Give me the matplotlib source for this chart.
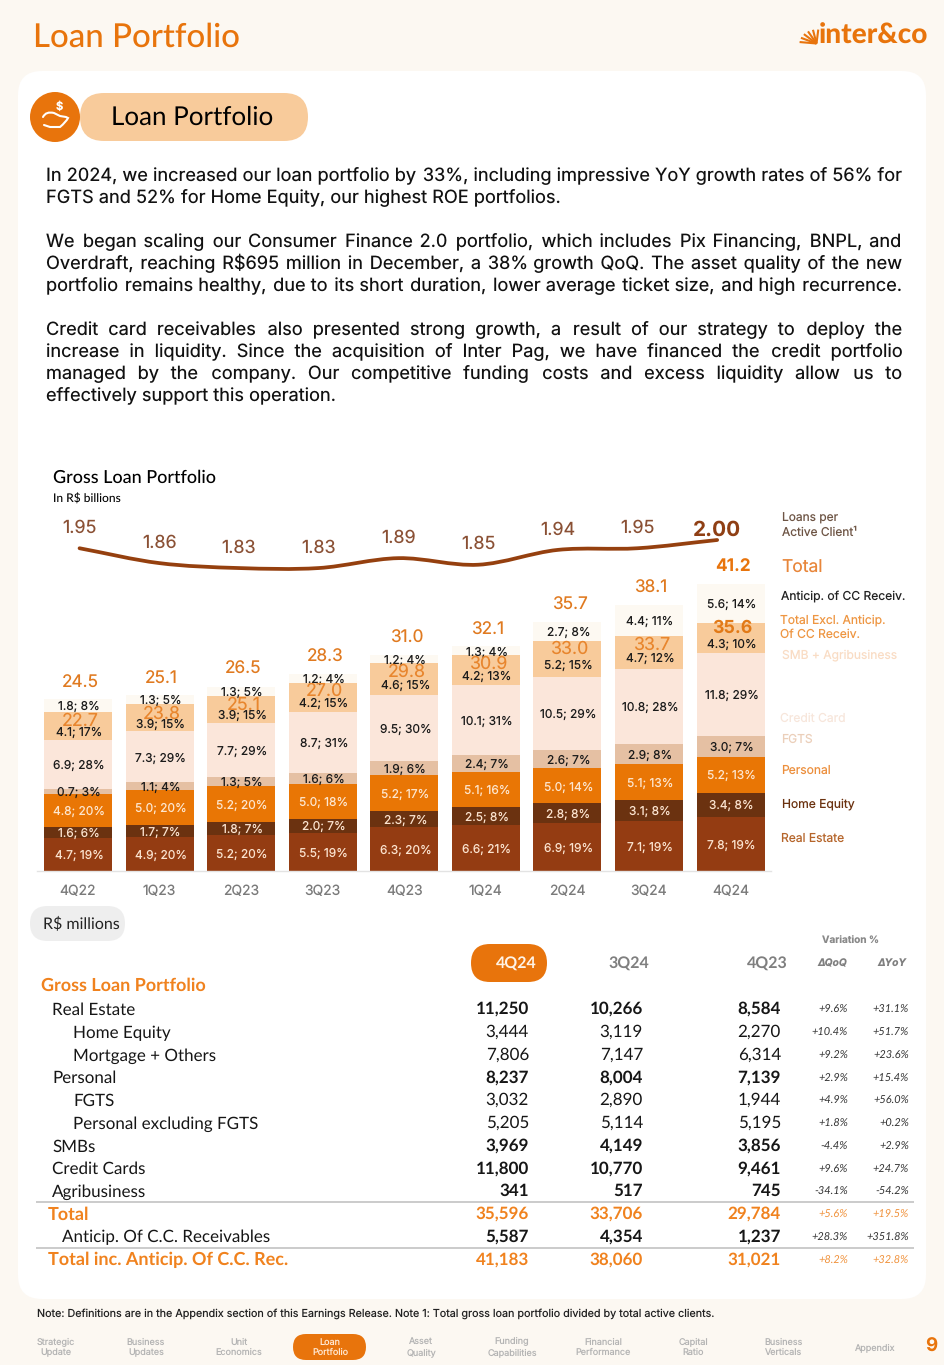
import matplotlib
matplotlib.use("Agg")
import matplotlib.pyplot as plt
import numpy as np
from matplotlib import font_manager as fm
from matplotlib.ft2font import FT2Font
from matplotlib.patches import FancyBboxPatch, Circle, PathPatch
from matplotlib.path import Path

plt.rcParams["text.hinting"] = "no_hinting"
plt.rcParams["text.hinting_factor"] = 1

# ---------- data ----------
quarters = ["4Q22", "1Q23", "2Q23", "3Q23", "4Q23", "1Q24", "2Q24", "3Q24", "4Q24"]
real_estate = [4.7, 4.9, 5.2, 5.5, 6.3, 6.6, 6.9, 7.1, 7.8]
home_equity = [1.6, 1.7, 1.8, 2.0, 2.3, 2.5, 2.8, 3.1, 3.4]
personal = [4.8, 5.0, 5.2, 5.0, 5.2, 5.1, 5.0, 5.1, 5.2]
fgts = [0.7, 1.1, 1.3, 1.6, 1.9, 2.4, 2.6, 2.9, 3.0]
credit_card = [6.9, 7.3, 7.7, 8.7, 9.5, 10.1, 10.5, 10.8, 11.8]
smb_agri = [4.1, 3.9, 3.9, 4.2, 4.6, 4.2, 5.2, 4.7, 4.3]
anticip = [1.8, 1.3, 1.3, 1.2, 1.2, 1.3, 2.7, 4.4, 5.6]
pct_real_estate = [19, 20, 20, 19, 20, 21, 19, 19, 19]
pct_home_equity = [6, 7, 7, 7, 7, 8, 8, 8, 8]
pct_personal = [20, 20, 20, 18, 17, 16, 14, 13, 13]
pct_fgts = [3, 4, 5, 6, 6, 7, 7, 8, 7]
pct_credit_card = [28, 29, 29, 31, 30, 31, 29, 28, 29]
pct_smb_agri = [17, 15, 15, 15, 15, 13, 15, 12, 10]
pct_anticip = [8, 5, 5, 4, 4, 4, 8, 11, 14]
total = [24.5, 25.1, 26.5, 28.3, 31.0, 32.1, 35.7, 38.1, 41.2]
total_excl = [22.7, 23.8, 25.1, 27.0, 29.8, 30.9, 33.0, 33.7, 35.6]
loans_per_client = [1.95, 1.86, 1.83, 1.83, 1.89, 1.85, 1.94, 1.95, 2.00]

table_labels = ["Real Estate", "Home Equity", "Mortgage + Others", "Personal", "FGTS",
                "Personal excluding FGTS", "SMBs", "Credit Cards", "Agribusiness", "Total",
                "Anticip. Of C.C. Receivables", "Total inc. Anticip. Of C.C. Rec."]
col_4q24 = [11250, 3444, 7806, 8237, 3032, 5205, 3969, 11800, 341, 35596, 5587, 41183]
col_3q24 = [10266, 3119, 7147, 8004, 2890, 5114, 4149, 10770, 517, 33706, 4354, 38060]
col_4q23 = [8584, 2270, 6314, 7139, 1944, 5195, 3856, 9461, 745, 29784, 1237, 31021]
var_qoq = [9.6, 10.4, 9.2, 2.9, 4.9, 1.8, -4.4, 9.6, -34.1, 5.6, 28.3, 8.2]
var_yoy = [31.1, 51.7, 23.6, 15.4, 56.0, 0.2, 2.9, 24.7, -54.2, 19.5, 351.8, 32.8]

para_lines = [
    ("In 2024, we increased our loan portfolio by 33%, including impressive YoY growth rates of 56% for", True),
    ("FGTS and 52% for Home Equity, our highest ROE portfolios.", False),
    ("We began scaling our Consumer Finance 2.0 portfolio, which includes Pix Financing, BNPL, and", True),
    ("Overdraft, reaching R$695 million in December, a 38% growth QoQ. The asset quality of the new", True),
    ("portfolio remains healthy, due to its short duration, lower average ticket size, and high recurrence.", True),
    ("Credit card receivables also presented strong growth, a result of our strategy to deploy the", True),
    ("increase in liquidity. Since the acquisition of Inter Pag, we have financed the credit portfolio", True),
    ("managed by the company. Our competitive funding costs and excess liquidity allow us to", True),
    ("effectively support this operation.", False),
]
nav_items = ["Strategic\nUpdate", "Business\nUpdates", "Unit\nEconomics", "Loan\nPortfolio", "Asset\nQuality",
             "Funding\nCapabilities", "Financial\nPerformance", "Capital\nRatio", "Business\nVerticals", "Appendix"]

# ---------- style ----------
W, H = 945, 1365
ORANGE = "#E8740C"
PAGE = "#FCF8F2"
BODY = "Inter"
HEAD = "Lato"
C_RE, C_HE, C_PE, C_FG, C_CC, C_SM, C_AN = "#943C12", "#6B3210", "#E97605", "#E5C0A3", "#FBE6DA", "#F8CB9B", "#FDF9F2"

fig = plt.figure(figsize=(W / 100, H / 100), dpi=100, facecolor=PAGE)
page = fig.add_axes([0, 0, 1, 1], zorder=0)
page.set_xlim(0, W)
page.set_ylim(H, 0)
page.axis("off")


def T(x, y, s, size=9, color="black", ha="left", va="center", family=BODY, weight="normal", **kw):
    return page.text(x, y + 1.2, s, fontsize=size, color=color, ha=ha, va=va, family=family, weight=weight, **kw)


def pill(x0, y0, x1, y1, color, r=None, z=1):
    r = (y1 - y0) / 2 if r is None else r
    page.add_patch(FancyBboxPatch((x0 + r, y0 + r), x1 - x0 - 2 * r, y1 - y0 - 2 * r,
                                  boxstyle=f"round,pad={r},rounding_size={r}", fc=color, ec="none", zorder=z))


# header
T(33, 36, "Loan Portfolio", size=23.7, color=ORANGE, family=HEAD, weight="medium")
T(928, 34, "inter&co", size=20.5, color=ORANGE, ha="right", family=HEAD, weight="black")
for a in np.deg2rad([6, 24, 42, 60, 78, 96]):
    page.plot([816.5, 816.5 - 17 * np.cos(a)], [43.5, 43.5 - 14 * np.sin(a)], color=ORANGE, lw=1.5, solid_capstyle="butt")

# panel
pill(18, 71, 926, 1299, "white", r=24)

# section badge
page.add_patch(Circle((55, 117), 25, fc=ORANGE, ec="none", zorder=2))
pill(80, 93, 308, 141, C_SM)
T(192, 116, "Loan Portfolio", size=18.8, ha="center", family=HEAD, zorder=3)
T(59, 106, "$", size=8, color="white", ha="center", weight="bold", zorder=3)
hand = Path([(43, 117), (46, 111), (54, 113), (60, 116), (66, 117), (68, 118), (66, 122), (60, 127), (50, 127), (44, 125)],
            [Path.MOVETO, Path.CURVE3, Path.CURVE3, Path.LINETO, Path.LINETO, Path.LINETO, Path.CURVE3, Path.CURVE3,
             Path.LINETO, Path.LINETO])
page.add_patch(PathPatch(hand, fc="none", ec="white", lw=1.5, zorder=3, capstyle="round"))

# paragraph: one text per line, justified by padding the word gaps with the narrowest space the font has
para_base = [180, 202, 246, 268, 290, 334, 356, 378, 400]
PARA_SIZE = 13.08
renderer = fig.canvas.get_renderer()
L, R = 46, 902
body_font = FT2Font(fm.findfont(BODY))
pads = [c for c in "\u200a\u2009\u2006\u2005" if body_font.get_char_index(ord(c))]


def line_width(s):
    t = page.text(0, 0, s, fontsize=PARA_SIZE, family=BODY)
    w = t.get_window_extent(renderer).width
    t.remove()
    return w


pad = pads[0] if pads else " "
pad_w = line_width("a" + pad + "a") - line_width("aa")
for (line, justify), y in zip(para_lines, para_base):
    if justify:
        words = line.split(" ")
        gaps = len(words) - 1
        need = (R - L - line_width(line)) / pad_w
        out, done = words[0], 0
        for k, w in enumerate(words[1:], start=1):
            n = int(round(need * k / gaps)) - done
            done += n
            out += " " + pad * max(n, 0) + w
        line = out
    T(L, y, line, size=PARA_SIZE, color="#111111", va="baseline")

# chart titles
T(53, 477, "Gross Loan Portfolio", size=13, family=HEAD, weight="medium")
T(53, 498, "In R$ billions", size=8.8, family=HEAD, weight="medium")

# ---------- bars ----------
BASE, PX_PER_UNIT = 871, 6.98
ax_top = 575
ax = fig.add_axes([37.2 / W, 1 - BASE / H, (771.3 - 37.2) / W, (BASE - ax_top) / H], zorder=2)
ax.patch.set_alpha(0)
ax.set_xlim(-0.5, 8.5)
ax.set_ylim(0, (BASE - ax_top) / PX_PER_UNIT)
for s in ["top", "left", "right"]:
    ax.spines[s].set_visible(False)
ax.spines["bottom"].set_color("#E3E3E3")
ax.spines["bottom"].set_linewidth(1)
ax.set_yticks([])
ax.set_xticks(range(len(quarters)), quarters)
ax.tick_params(axis="x", length=0, pad=10, labelsize=10, labelcolor="#7A7A7A")
for t in ax.get_xticklabels():
    t.set_family(BODY)

stack = [
    (real_estate, pct_real_estate, C_RE, "#FBE3CF", -1.0),
    (home_equity, pct_home_equity, C_HE, "#FBE3CF", -1.0),
    (personal, pct_personal, C_PE, "#FDE6CF", -1.0),
    (fgts, pct_fgts, C_FG, "#1A1A1A", -1.0),
    (credit_card, pct_credit_card, C_CC, "#1A1A1A", -1.0),
    (smb_agri, pct_smb_agri, C_SM, "#1A1A1A", -4.6),
    (anticip, pct_anticip, C_AN, "#1A1A1A", -1.0),
]
x = np.arange(len(quarters))
bottom = np.zeros(len(quarters))
for vals, pcts, color, tc, dy in stack:
    vals = np.array(vals)
    ax.bar(x, vals, 0.834, bottom=bottom, color=color, linewidth=0, zorder=2)
    for i in range(len(x)):
        ax.annotate(f"{vals[i]:.1f}; {pcts[i]}%", (x[i], bottom[i] + vals[i] / 2), xytext=(0.8, dy),
                    textcoords="offset points", ha="center", va="center", fontsize=8.6, color=tc, family=BODY, zorder=5)
    bottom = bottom + vals

for i in range(len(x)):
    last = i == len(x) - 1
    ax.annotate(f"{total[i]:.1f}", (x[i], total[i]), xytext=(1.6, 12), textcoords="offset points", ha="center",
                va="center", fontsize=12.4, color="#E07A20" if not last else ORANGE, family=BODY,
                weight="bold" if last else "normal", zorder=6, annotation_clip=False)
    ax.annotate(f"{total_excl[i]:.1f}", (x[i], total_excl[i]), xytext=(1.6, -6.4 if not last else -3.8),
                textcoords="offset points", ha="center", va="center", fontsize=12.8,
                color="#E8862E" if not last else "#E27A18", family=BODY,
                weight="bold" if last else "normal", zorder=6)

# ---------- loans per client line ----------
lx0, lx1, ly_top, ly_bot = 39.7, 757, 510, 600
V_AT_540, PX_PER_V = 2.00, 165
lax = fig.add_axes([lx0 / W, 1 - ly_bot / H, (lx1 - lx0) / W, (ly_bot - ly_top) / H], zorder=3)
lax.patch.set_alpha(0)
lax.axis("off")
lax.set_xlim(-0.5, 8.5)
lax.set_ylim(V_AT_540 - (ly_bot - 540) / PX_PER_V, V_AT_540 + (540 - ly_top) / PX_PER_V)
lv = np.array(loans_per_client)
lxs = np.arange(len(lv), dtype=float)
slopes = np.gradient(lv, lxs)
verts, codes = [(lxs[0], lv[0])], [Path.MOVETO]
for i in range(len(lv) - 1):
    verts += [(lxs[i] + 1 / 3, lv[i] + slopes[i] / 3), (lxs[i + 1] - 1 / 3, lv[i + 1] - slopes[i + 1] / 3),
              (lxs[i + 1], lv[i + 1])]
    codes += [Path.CURVE4] * 3
lax.add_patch(PathPatch(Path(verts, codes), fc="none", ec="#95400F", lw=2.7, capstyle="round", joinstyle="round"))
for i, v in enumerate(lv):
    last = i == len(lv) - 1
    lax.annotate(f"{v:.2f}", (lxs[i], v), xytext=(0, 6.8 if last else 14.6), textcoords="offset points",
                 ha="center", va="center", fontsize=15 if last else 12.9, color="#8F3F14" if last else "#8A5034",
                 family=BODY, weight="bold" if last else "normal", annotation_clip=False)

# ---------- series captions ----------
T(782, 517, "Loans per", size=8.6, color="#6E5545")
T(782, 531, "Active Client¹", size=8.6, color="#6E5545")
T(781, 567, "Total", size=12.6, color="#E8863A")
T(781, 595, "Anticip. of CC Receiv.", size=8.7, color="#222222")
T(780, 619, "Total Excl. Anticip.", size=8.7, color="#EE9642")
T(780, 633, "Of CC Receiv.", size=8.7, color="#EE9642")
T(782, 654, "SMB + Agribusiness", size=8.7, color="#F9DCC4")
T(780, 717, "Credit Card", size=8.7, color="#F7E6DB")
T(781, 738, "FGTS", size=8.7, color="#EBCFBA")
T(781, 769, "Personal", size=8.7, color="#EC8F3D")
T(782, 803, "Home Equity", size=8.7, color="#6B3210")
T(781, 837, "Real Estate", size=8.7, color="#B5652B")

# ---------- table ----------
pill(30, 906, 125, 941, "#EEEEEE")
T(43, 923, "R$ millions", size=11.2, family=HEAD, color="#222222", zorder=3)
T(851, 940, "Variation %", size=7.2, color="#8A8A8A", ha="center", weight="bold")
pill(471, 944, 547, 982, ORANGE)
T(516, 962, "4Q24", size=11.2, color="#FFF3E6", ha="center", family=HEAD, weight="bold", zorder=3)
T(629, 962, "3Q24", size=11.2, color="#7F7F7F", ha="center", family=HEAD, weight="bold")
T(767, 962, "4Q23", size=11.2, color="#7F7F7F", ha="center", family=HEAD, weight="bold")
T(832, 962, "ΔQoQ", size=7.4, color="#7F7F7F", ha="center", style="italic", weight="bold")
T(892, 962, "ΔYoY", size=7.4, color="#7F7F7F", ha="center", style="italic", weight="bold")
T(41, 984, "Gross Loan Portfolio", size=13, color="#F0821E", family=HEAD, weight="bold")

row_y0, row_dy = 1008.5, 22.75
indent = [52, 73, 73, 52, 73, 73, 52, 52, 52, 48, 62, 48]
bold_vals = [1, 0, 0, 1, 0, 0, 1, 1, 1, 1, 1, 1]
is_total = [0, 0, 0, 0, 0, 0, 0, 0, 0, 1, 0, 1]
for i, lab in enumerate(table_labels):
    y = row_y0 + i * row_dy
    c = "#F0821E" if is_total[i] else "#161616"
    T(indent[i], y + 5.3, lab, size=13.1 if is_total[i] else 12.4, color=c, family=HEAD, va="baseline",
      weight="bold" if is_total[i] else "normal")
    for xr, col in zip((529, 643, 781), (col_4q24, col_3q24, col_4q23)):
        T(xr, y + 4.3, f"{col[i]:,}", size=12.6, color=c, ha="right", family=HEAD, va="baseline",
          weight="bold" if bold_vals[i] else "normal")
    vc = "#F0923C" if is_total[i] else "#333333"
    T(848, y + 3.7, f"{var_qoq[i]:+.1f}%", size=7.8, color=vc, ha="right", family=HEAD, style="italic", va="baseline")
    T(909, y + 3.7, f"{var_yoy[i]:+.1f}%", size=7.8, color=vc, ha="right", family=HEAD, style="italic", va="baseline")
for yy in (1202, 1247.5):
    page.plot([36, 914], [yy, yy], color="#BDBDBD", lw=1.1, solid_capstyle="butt")

# ---------- footer ----------
T(37, 1312, "Note: Definitions are in the Appendix section of this Earnings Release. Note 1: Total gross loan portfolio divided by total active clients.",
  size=7.75, color="#222222")
nav_x = [56, 146, 239, 330, 421, 512, 603, 693, 784, 875]
pill(293, 1334, 366, 1360, ORANGE)
for xn, item in zip(nav_x, nav_items):
    on = item.startswith("Loan")
    T(xn, 1346, item, size=6.5, color="#FFE9D4" if on else "#B4B4B4", ha="center", linespacing=1.25, zorder=3)
T(931, 1346, "9", size=13.5, color=ORANGE, ha="center", weight="bold")

fig.savefig("out.png", dpi=100, facecolor=PAGE)
